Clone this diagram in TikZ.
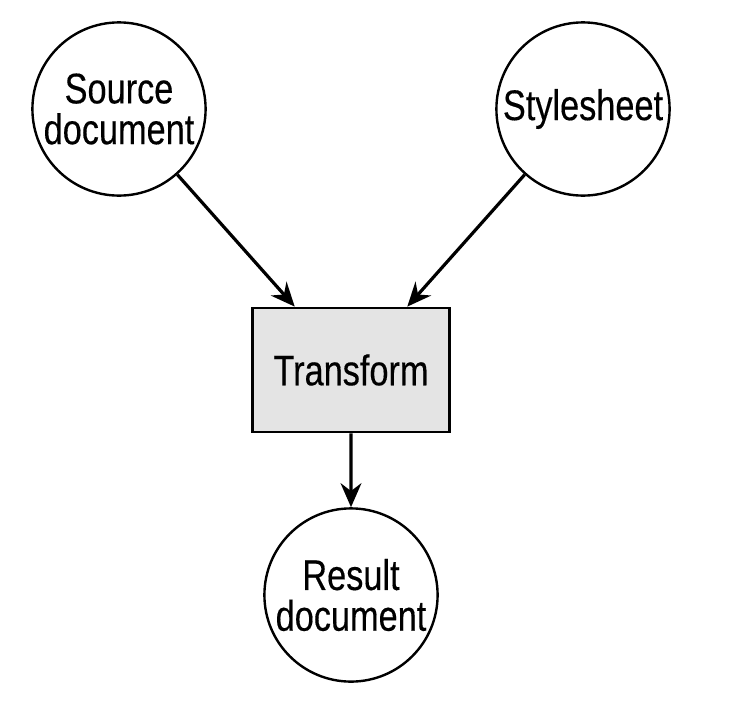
\documentclass[tikz,border=0pt]{standalone}
\usepackage{fontspec}
\setmainfont{Liberation Sans}[FakeStretch=0.8,FakeBold=0.3]
\usetikzlibrary{trees,arrows.meta}
\definecolor{boxgray}{RGB}{228,228,228}
\tikzset{
	doc/.style={circle,draw,line width=0.06cm,minimum size=4.33cm,inner sep=0pt,align=center,font=\fontsize{30.5pt}{29pt}\selectfont},
	proc/.style={rectangle,draw,fill=boxgray,line width=0.07cm,minimum width=4.92cm,minimum height=3.1cm,font=\fontsize{30.5pt}{29pt}\selectfont}
}

\begin{document}
\begin{tikzpicture}
	\useasboundingbox (0,0) rectangle (18.825,-17.6);
	\node (result) at (8.775,-14.875) [doc] {Result\\document}
	 [grow=up,
	 edge from parent/.style={draw,line width=0.08cm,{Stealth[length=0.6cm,width=0.52cm]}-},
	 level 1/.style={level distance=5.625cm},
	 level 2/.style={level distance=6.525cm,sibling distance=11.6cm}]
	 child{node (transform) [proc] {Transform}
	 	child{node (stylesheet) [doc] {Stylesheet}}
	 	child{node (source) [doc] {Source\\document}}
};
\end{tikzpicture}
\end{document}
